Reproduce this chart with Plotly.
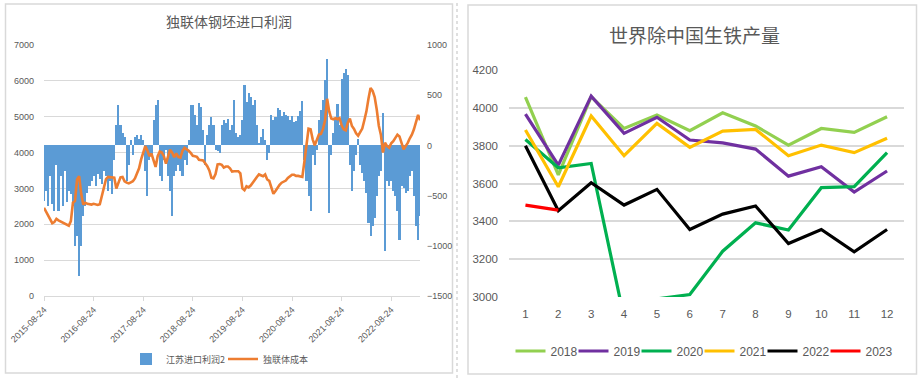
import pandas as pd
import plotly.graph_objects as go

# ---------------- left chart data (semi-monthly, from 2015-08-24) ----------------
start_date = "2015-08-24"
step_days = 15.22
jiangsu_profit = [
    -550, -450, -600, -300, -580, -650, -200, -650, -300, -600,
    -250, -560, -450, -480, -600, -1000, -900, -1300, -1000, -700,
    -600, -470, -400, -350, -300, -400, -280, -330, -380, -250,
    -300, -450, -350, -480, -150, 200, 400, 200, 120, 80,
    -350, -200, 50, -100, 80, 100, 60, 100, 50, -250,
    -500, -150, -100, 250, 400, 450, -300, -350, -150, -50,
    -300, -450, -700, -300, -250, -200, -250, -300, -150, -200,
    50, 400, 400, 300, 200, 420, 380, 150, -200, 100,
    200, 280, 200, -50, -60, -80, 200, 250, 220, 260,
    150, 200, 450, 120, 80, 100, 250, 600, 430, 520,
    480, 400, 450, 200, 20, 80, 160, 50, -150, -80,
    300, 250, 280, 370, 350, 290, 330, 300, 290, 250,
    290, 230, 240, 290, 340, 440, -150, -350, -500, -650,
    -100, -200, -50, 250, 350, 450, 650, 860, -670, -100,
    120, 250, 410, 200, 660, 720, 760, 700, -200, -450,
    -250, -100, 60, -200, -270, -350, -470, -770, -900, -800,
    -720, -500, -300, -250, 320, -1050, -350, -400, -350, -450,
    -500, -650, -940, -400, -420, -470, -450, -300, -250, -500,
    -800, -940, -700,
]
cis_cost = [
    2460, 2350, 2220, 2130, 2030, 2060, 2150, 2110, 2080, 2050,
    2020, 1980, 1960, 2090, 2600, 2650, 3250, 3340, 2850, 2550,
    2600, 2570, 2560, 2550, 2570, 2550, 2540, 2560, 2790, 3100,
    3260, 3320, 3310, 3300, 3300, 3000, 3150, 3310, 3320, 3200,
    3160, 3140, 3170, 3200, 3280, 3400, 3560, 3810, 3995, 4180,
    4060, 3900, 3970, 3800, 3600, 3900, 4030, 4000, 3900, 3690,
    3870, 4080, 4000, 3870, 3980, 3880, 3860, 4050, 4130, 4100,
    4050, 3990, 3910, 3900, 3880, 3800, 3790, 3780, 3700, 3620,
    3500, 3300, 3280, 3400, 3670, 3680, 3660, 3580, 3610, 3610,
    3560, 3470, 3480, 3480, 3480, 3420, 3000, 2950, 3060, 3030,
    3080, 3160, 3250, 3320, 3390, 3360, 3340, 3390, 3250, 3210,
    3000, 2850, 2930, 3030, 3100, 3160, 3190, 3220, 3290, 3330,
    3380, 3380, 3350, 3350, 3340, 3320, 3750, 4150, 4665, 4650,
    4370, 4200, 4380, 4500, 4520, 4660, 4900, 5500, 5150, 4950,
    4930, 4960, 4930, 4960, 4760, 4650, 4620, 4830, 4950, 4740,
    4660, 4540, 4470, 4560, 4670, 4900, 5150, 5500, 5800, 5720,
    5550, 5200, 4750, 4500, 4000, 4275, 4180, 4135, 4260, 4320,
    4400, 4500, 4450, 4250, 4090, 4180, 4270, 4400, 4500, 4650,
    4880, 5050, 4900,
]
left_xticks = ["2015-08-24", "2016-08-24", "2017-08-24", "2018-08-24",
               "2019-08-24", "2020-08-24", "2021-08-24", "2022-08-24"]
left_end = "2023-03-24"

# ---------------- right chart data ----------------
months = [1, 2, 3, 4, 5, 6, 7, 8, 9, 10, 11, 12]
y2018 = [4056, 3645, 4059, 3891, 3962, 3879, 3974, 3904, 3803, 3891, 3870, 3953]
y2019 = [3967, 3697, 4062, 3865, 3950, 3830, 3815, 3782, 3639, 3689, 3555, 3666]
y2020 = [3833, 3683, 3706, 2890, 2990, 3013, 3242, 3392, 3354, 3578, 3583, 3763]
y2021 = [3883, 3583, 3957, 3747, 3918, 3791, 3877, 3886, 3747, 3803, 3763, 3839]
y2022 = [3800, 3456, 3604, 3486, 3569, 3357, 3438, 3481, 3283, 3357, 3239, 3357]
y2023 = [3486, 3459]

dates = pd.Timestamp(start_date) + pd.to_timedelta(
    [i * step_days for i in range(len(jiangsu_profit))], unit="D")

W, H = 922, 381
def px(x):
    return x / W
def py(y):
    return 1 - y / H

GREY = "#595959"
GRID = "#D9D9D9"
NUM_FONT = "Liberation Sans Narrow, Arial Narrow, Liberation Sans, sans-serif"
SMALL_FONT = "Liberation Sans, Arial, sans-serif"
CJK = "Noto Sans CJK SC, sans-serif"

fig = go.Figure()

fig.add_trace(go.Bar(
    x=dates, y=jiangsu_profit, name="江苏进口利润2",
    marker=dict(color="#5B9BD5", line=dict(width=0)),
    xaxis="x", yaxis="y", legend="legend"))
fig.add_trace(go.Scatter(
    x=dates, y=cis_cost, name="独联体成本", mode="lines",
    line=dict(color="#ED7D31", width=2.6),
    xaxis="x", yaxis="y2", legend="legend"))

series = [("2018", y2018, "#92D050"), ("2019", y2019, "#7030A0"),
          ("2020", y2020, "#00B050"), ("2021", y2021, "#FFC000"),
          ("2022", y2022, "#000000"), ("2023", y2023, "#FF0000")]
for name, vals, col in series:
    fig.add_trace(go.Scatter(
        x=months[:len(vals)], y=vals, name=name, mode="lines",
        line=dict(color=col, width=3.2),
        xaxis="x2", yaxis="y3", legend="legend2"))
# invisible spacer entry so the last legend label is not clipped
fig.add_trace(go.Scatter(
    x=[None], y=[None], name=" ", mode="lines",
    line=dict(color="rgba(0,0,0,0)", width=1),
    xaxis="x2", yaxis="y3", legend="legend2", hoverinfo="skip"))

fig.update_layout(
    width=W, height=H,
    margin=dict(l=0, r=0, t=0, b=0, autoexpand=False),
    paper_bgcolor="white", plot_bgcolor="white",
    bargap=0,
    xaxis=dict(
        domain=[px(44), px(420)], type="date", automargin=False,
        range=[start_date, left_end],
        tickvals=left_xticks, ticktext=left_xticks,
        tickangle=-45, tickfont=dict(size=9, color=GREY, family=SMALL_FONT),
        showgrid=False, showline=True, linecolor=GRID, linewidth=1,
        ticks="outside", ticklen=4, tickcolor=GRID,
        anchor="y2"),
    yaxis=dict(
        range=[-1500, 1000], dtick=500, side="right", automargin=False,
        anchor="x", showgrid=False, zeroline=False,
        tickfont=dict(size=9, color=GREY, family=SMALL_FONT),
        ticklabelstandoff=6,
        domain=[py(296), py(45)]),
    yaxis2=dict(
        range=[0, 7000], dtick=1000, side="left", automargin=False,
        overlaying="y", anchor="x",
        showgrid=True, gridcolor=GRID, gridwidth=1, zeroline=False,
        tickfont=dict(size=9, color=GREY, family=SMALL_FONT),
        ticklabelstandoff=9),
    xaxis2=dict(
        domain=[px(509), px(903.5)], range=[0.5, 12.5], automargin=False,
        tickvals=months, showgrid=False, showline=False, zeroline=False,
        tickfont=dict(size=11.5, color=GREY, family=NUM_FONT),
        anchor="y3", ticklabelstandoff=8),
    yaxis3=dict(
        domain=[py(297), py(70)], range=[3000, 4200], dtick=200, automargin=False,
        anchor="x2", showgrid=True, gridcolor=GRID, gridwidth=1.5, zeroline=False,
        tickfont=dict(size=11.5, color=GREY, family=NUM_FONT),
        ticklabelstandoff=10),
    legend=dict(
        orientation="h", x=px(223), xanchor="center", y=py(359), yanchor="middle",
        font=dict(size=9, color=GREY, family=CJK), bgcolor="rgba(0,0,0,0)",
        entrywidth=52, entrywidthmode="pixels"),
    legend2=dict(
        orientation="h", x=px(731), xanchor="center", y=py(351), yanchor="middle",
        font=dict(size=12, color=GREY, family=NUM_FONT), bgcolor="rgba(0,0,0,0)",
        entrywidth=18, entrywidthmode="pixels"),
    showlegend=True,
    annotations=[
        dict(text="独联体钢坯进口利润", x=px(229), y=py(21), xref="paper", yref="paper",
             showarrow=False, xanchor="center", yanchor="middle",
             font=dict(size=14, color=GREY, family=CJK)),
        dict(text="世界除中国生铁产量", x=px(694), y=py(34), xref="paper", yref="paper",
             showarrow=False, xanchor="center", yanchor="middle",
             font=dict(size=19, color=GREY, family=CJK)),
    ],
    shapes=[
        dict(type="rect", xref="paper", yref="paper", x0=px(5.5), x1=px(452.5),
             y0=py(373), y1=py(4), line=dict(color=GRID, width=1.5), layer="below"),
        dict(type="rect", xref="paper", yref="paper", x0=px(468), x1=px(916.5),
             y0=py(374), y1=py(5), line=dict(color=GRID, width=1.5), layer="below"),
        dict(type="line", xref="paper", yref="paper", x0=px(457), x1=px(457),
             y0=py(378), y1=py(2), line=dict(color="#BFBFBF", width=1, dash="dot"), layer="below"),
    ],
)

fig.write_html(
    "out.html",
    config={"displayModeBar": False},
    post_script="document.body.style.margin='0';document.body.style.overflow='hidden';")
